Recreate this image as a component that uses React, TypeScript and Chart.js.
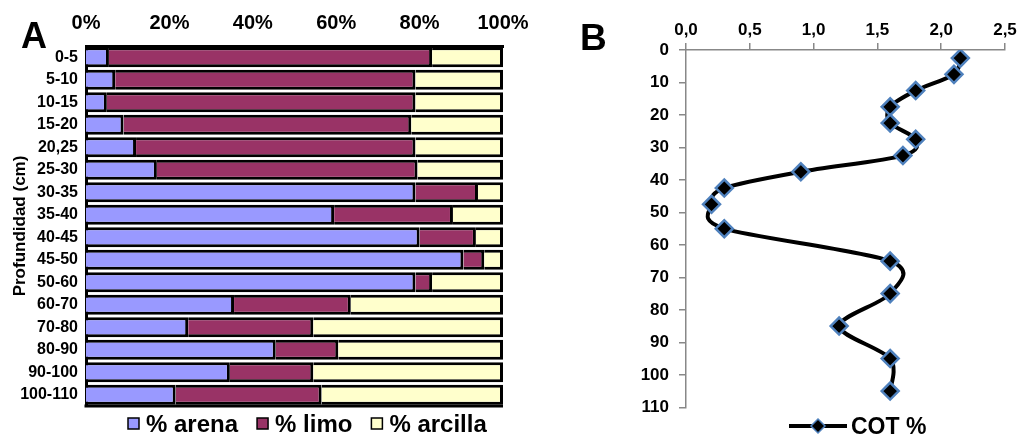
import React, { useEffect, useRef } from 'react';
import { Chart, registerables } from 'chart.js';
Chart.register(...registerables);

// ---------- Panel A data ----------
const depthLabels = ['0-5', '5-10', '10-15', '15-20', '20,25', '25-30', '30-35', '35-40', '40-45', '45-50', '50-60', '60-70', '70-80', '80-90', '90-100', '100-110'];
const arena = [5.5, 7, 5, 9, 12, 17, 79, 59.5, 80, 90.5, 79, 35.5, 24.5, 45.5, 34.5, 21.5];
const limo = [77.5, 72, 74, 69, 67, 62.5, 15, 28.5, 13.5, 5, 4, 28, 30, 15, 20, 35];
const arcilla = [17, 21, 21, 22, 21, 20.5, 6, 12, 6.5, 4.5, 17, 36.5, 45.5, 39.5, 45.5, 43.5];
const seriesNames = ['% arena', '% limo', '% arcilla'];
const percentTicks = [0, 20, 40, 60, 80, 100];

// ---------- Panel B data ----------
const cotDepth = [2.5, 7.5, 12.5, 17.5, 22.5, 27.5, 32.5, 37.5, 42.5, 47.5, 55, 65, 75, 85, 95, 105];
const cotValue = [2.15, 2.1, 1.8, 1.6, 1.6, 1.8, 1.7, 0.9, 0.3, 0.2, 0.3, 1.6, 1.6, 1.2, 1.6, 1.6];
const cotName = 'COT %';

const SANS = '"Liberation Sans", Arial, sans-serif';

const frameAndLegendA = {
  id: 'frameLegendA',
  afterDraw(chart: any) {
    const ctx = chart.ctx;
    const a = chart.chartArea;
    ctx.save();
    ctx.strokeStyle = '#000';
    ctx.lineWidth = 3;
    ctx.beginPath();
    ctx.moveTo(a.left - 1.5, a.bottom);
    ctx.lineTo(a.right, a.bottom);
    ctx.stroke();
    // legend
    ctx.font = 'bold 24px ' + SANS;
    ctx.textBaseline = 'alphabetic';
    let x = 128;
    const boxY = 418;
    chart.data.datasets.forEach((ds: any) => {
      ctx.fillStyle = ds.backgroundColor;
      ctx.fillRect(x, boxY, 11, 11);
      ctx.lineWidth = 1.5;
      ctx.strokeStyle = '#000';
      ctx.strokeRect(x, boxY, 11, 11);
      ctx.fillStyle = '#000';
      ctx.fillText(ds.label, x + 18, 432);
      x += 18 + ctx.measureText(ds.label).width + 19;
    });
    ctx.restore();
  },
};

// Excel-like smoothing: Catmull-Rom style control points (1/6 of neighbour span)
const excelSmooth = {
  id: 'excelSmooth',
  beforeDatasetsDraw(chart: any) {
    chart.data.datasets.forEach((_ds: any, di: number) => {
      const meta = chart.getDatasetMeta(di);
      const line = meta.dataset;
      if (!line) return;
      line.updateControlPoints(chart.chartArea, meta.iScale ? meta.iScale.axis : 'x');
      const pts = meta.data;
      const n = pts.length;
      for (let i = 0; i < n; i++) {
        const p = pts[i];
        const prev = pts[Math.max(i - 1, 0)];
        const next = pts[Math.min(i + 1, n - 1)];
        const tx = (next.x - prev.x) / 6.5;
        const ty = (next.y - prev.y) / 6.5;
        p.cp1x = p.x - tx;
        p.cp1y = p.y - ty;
        p.cp2x = p.x + tx;
        p.cp2y = p.y + ty;
      }
      line._path = undefined;
    });
  },
};

const legendB = {
  id: 'legendB',
  afterDraw(chart: any) {
    const ctx = chart.ctx;
    const ds = chart.data.datasets[0];
    ctx.save();
    const y = 426;
    const x0 = 209;
    const x1 = 267;
    ctx.strokeStyle = '#000';
    ctx.lineWidth = 4;
    ctx.beginPath();
    ctx.moveTo(x0, y);
    ctx.lineTo(x1, y);
    ctx.stroke();
    const cx = (x0 + x1) / 2;
    const r = 7;
    ctx.beginPath();
    ctx.moveTo(cx, y - r);
    ctx.lineTo(cx + r, y);
    ctx.lineTo(cx, y + r);
    ctx.lineTo(cx - r, y);
    ctx.closePath();
    ctx.fillStyle = '#000';
    ctx.fill();
    ctx.lineWidth = 1.5;
    ctx.strokeStyle = '#4F81BD';
    ctx.stroke();
    ctx.font = 'bold 23px ' + SANS;
    ctx.fillStyle = '#000';
    ctx.textBaseline = 'alphabetic';
    ctx.fillText(ds.label, 271, 434);
    ctx.restore();
  },
};

export default function App() {
  const refA = useRef<HTMLCanvasElement>(null);
  const refB = useRef<HTMLCanvasElement>(null);

  useEffect(() => {
    const colors = ['#9999FF', '#993366', '#FFFFCC'];
    const values = [arena, limo, arcilla];
    const chartA = new Chart(refA.current as HTMLCanvasElement, {
      type: 'bar',
      data: {
        labels: depthLabels,
        datasets: values.map((v, i) => ({
          label: seriesNames[i],
          data: v,
          backgroundColor: colors[i],
          borderColor: '#000',
          borderWidth: 3,
          borderSkipped: 'start',
          barPercentage: 0.89,
          categoryPercentage: 1,
        })),
      },
      options: {
        indexAxis: 'y',
        animation: false,
        responsive: false,
        devicePixelRatio: 1,
        layout: { padding: { left: 0, right: 27, top: 0, bottom: 30 } },
        plugins: { legend: { display: false }, tooltip: { enabled: false } },
        scales: {
          x: {
            position: 'top',
            stacked: true,
            min: 0,
            max: 100,
            afterBuildTicks: (s: any) => { s.ticks = percentTicks.map((v) => ({ value: v })); },
            ticks: {
              callback: (v: any) => v + '%',
              color: '#000',
              font: { family: SANS, size: 20, weight: 'bold' },
              padding: 11,
              maxRotation: 0,
            },
            grid: { display: false, drawTicks: false },
            border: { display: true, color: '#000', width: 3 },
            afterFit: (s: any) => { s.height = 46; s.paddingLeft = 0; s.paddingRight = 0; },
          },
          y: {
            stacked: true,
            ticks: {
              color: '#000',
              font: { family: SANS, size: 16, weight: 'bold' },
              padding: 8,
              autoSkip: false,
            },
            grid: { display: false, drawTicks: false },
            border: { display: true, color: '#000', width: 3 },
            title: {
              display: true,
              text: 'Profundidad (cm)',
              color: '#000',
              font: { family: SANS, size: 17, weight: 'bold' },
              padding: { top: 10, bottom: 0 },
            },
            afterFit: (s: any) => { s.width = 86; s.paddingTop = 0; s.paddingBottom = 0; },
          },
        },
      } as any,
      plugins: [frameAndLegendA],
    });

    const chartB = new Chart(refB.current as HTMLCanvasElement, {
      type: 'scatter',
      data: {
        datasets: [
          {
            label: cotName,
            data: cotValue.map((v, i) => ({ x: v, y: cotDepth[i] })),
            showLine: true,
            borderColor: '#000',
            borderWidth: 4,
            tension: 0.4,
            pointStyle: 'rectRot',
            pointRadius: 8.5,
            pointBackgroundColor: '#000',
            pointBorderColor: '#4F81BD',
            pointBorderWidth: 2.5,
          },
        ],
      },
      options: {
        animation: false,
        responsive: false,
        devicePixelRatio: 1,
        layout: { padding: { left: 0, right: 35, top: 0, bottom: 28.7 } },
        plugins: { legend: { display: false }, tooltip: { enabled: false } },
        scales: {
          x: {
            type: 'linear',
            position: 'top',
            min: 0,
            max: 2.5,
            ticks: {
              stepSize: 0.5,
              callback: (v: any) => Number(v).toFixed(1).replace('.', ','),
              color: '#000',
              font: { family: SANS, size: 17, weight: 'bold' },
              padding: 2,
              maxRotation: 0,
            },
            grid: { drawOnChartArea: false, drawTicks: true, tickLength: 7, color: '#888', lineWidth: 1.5 },
            border: { display: true, color: '#888', width: 1.5 },
            afterFit: (s: any) => { s.height = 50; s.paddingLeft = 0; s.paddingRight = 0; },
          },
          y: {
            type: 'linear',
            reverse: true,
            min: 0,
            max: 110,
            ticks: {
              stepSize: 10,
              color: '#000',
              font: { family: SANS, size: 17, weight: 'bold' },
              padding: 10,
            },
            grid: { drawOnChartArea: false, drawTicks: true, tickLength: 7, color: '#888', lineWidth: 1.5 },
            border: { display: true, color: '#888', width: 1.5 },
            afterFit: (s: any) => { s.width = 106; s.paddingTop = 0; s.paddingBottom = 0; },
          },
        },
      } as any,
      plugins: [excelSmooth, legendB],
    });

    return () => {
      chartA.destroy();
      chartB.destroy();
    };
  }, []);

  return (
    <div style={{ position: 'fixed', left: 0, top: 0, width: 1017, height: 436, overflow: 'hidden', background: '#fff' }}>
      <canvas ref={refA} width={530} height={436} style={{ position: 'absolute', left: 0, top: 0 }} />
      <canvas ref={refB} width={460} height={436} style={{ position: 'absolute', left: 580, top: 0 }} />
      <div style={{ position: 'absolute', left: 21, top: 18, font: 'bold 36px ' + SANS, lineHeight: '36px', color: '#000' }}>A</div>
      <div style={{ position: 'absolute', left: 580, top: 19, font: 'bold 37px ' + SANS, lineHeight: '37px', color: '#000' }}>B</div>
    </div>
  );
}
